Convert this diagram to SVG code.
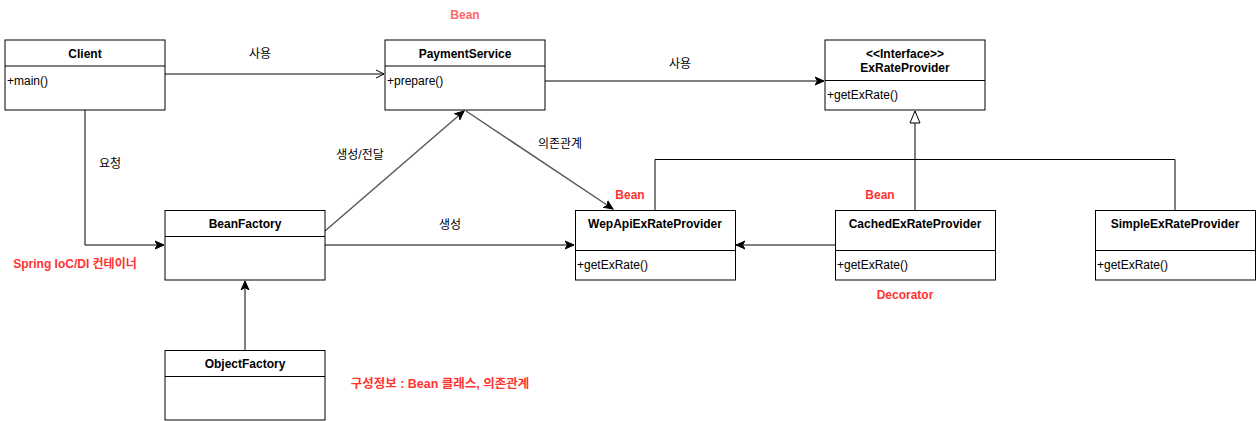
<svg xmlns="http://www.w3.org/2000/svg" width="1256" height="421" viewBox="0 0 1256 421">
<style>
.box{fill:#fff;stroke:#000;stroke-width:1}
.sep{stroke:#000;stroke-width:1}
.t{font-family:"Liberation Sans","Noto Sans CJK KR",sans-serif;font-size:12px;fill:#000}
.title{text-anchor:middle;font-weight:bold}
.m{font-size:12px}
.lbl{font-family:"Liberation Sans","Noto Sans CJK KR",sans-serif;font-size:12px;fill:#000;text-anchor:middle}
.red{font-family:"Liberation Sans","Noto Sans CJK KR",sans-serif;font-size:12px;fill:#ff3333;font-weight:bold;text-anchor:middle}
.ln{fill:none;stroke:#000;stroke-width:1}
.gl{fill:none;stroke:#595959;stroke-width:1.5}
</style>
<defs>
<marker id="open" markerWidth="10" markerHeight="10" refX="9" refY="5" orient="auto" markerUnits="userSpaceOnUse">
<path d="M1,1 L9,5 L1,9" fill="none" stroke="#000" stroke-width="1"/>
</marker>
<marker id="fill" markerWidth="10" markerHeight="10" refX="9" refY="5" orient="auto" markerUnits="userSpaceOnUse">
<path d="M0,1 L9,5 L0,9 L2.5,5 Z" fill="#000" stroke="#000" stroke-width="1"/>
</marker>
<marker id="tri" markerWidth="14" markerHeight="14" refX="13" refY="6" orient="auto" markerUnits="userSpaceOnUse">
<path d="M1,1 L13,6 L1,11 Z" fill="#fff" stroke="#000" stroke-width="1"/>
</marker>
</defs>

<g id="connectors">
<line class="gl" x1="165" y1="74" x2="384" y2="74" marker-end="url(#open)"/>
<line class="ln" x1="545" y1="81" x2="824" y2="81" marker-end="url(#fill)"/>
<polyline class="ln" points="85,110 85,245 164,245" marker-end="url(#fill)"/>
<line class="gl" x1="325" y1="231" x2="464" y2="111" marker-end="url(#fill)"/>
<line class="gl" x1="466" y1="111" x2="613" y2="209" marker-end="url(#fill)"/>
<line class="ln" x1="325" y1="245" x2="574" y2="245" marker-end="url(#fill)"/>
<line class="ln" x1="835" y1="245" x2="736" y2="245" marker-end="url(#fill)"/>
<line class="ln" x1="245" y1="350" x2="245" y2="281" marker-end="url(#fill)"/>
<line class="ln" x1="915" y1="210" x2="915" y2="111" marker-end="url(#tri)"/>
<polyline class="ln" points="655,210 655,159.5 1175,159.5 1175,210"/>
<text class="lbl" x="260" y="58">사용</text>
<text class="lbl" x="680" y="68">사용</text>
<text class="lbl" x="110" y="168">요청</text>
<text class="lbl" x="360" y="159">생성/전달</text>
<text class="lbl" x="560" y="148">의존관계</text>
<text class="lbl" x="450" y="229">생성</text>
</g>

<g id="client">
<rect class="box" x="5" y="40" width="160" height="70"/>
<line class="sep" x1="5" y1="66" x2="165" y2="66"/>
<text class="t title" x="85" y="58">Client</text>
<text class="t m" x="7" y="85">+main()</text>
</g>

<g id="paymentservice">
<rect class="box" x="385" y="40" width="160" height="70"/>
<line class="sep" x1="385" y1="66" x2="545" y2="66"/>
<text class="t title" x="465" y="58">PaymentService</text>
<text class="t m" x="387" y="85">+prepare()</text>
</g>

<g id="exrateprovider">
<rect class="box" x="825" y="40" width="160" height="70"/>
<line class="sep" x1="825" y1="80.5" x2="985" y2="80.5"/>
<text class="t title" x="905" y="58" font-weight="normal">&lt;&lt;Interface&gt;&gt;</text>
<text class="t title" x="905" y="72">ExRateProvider</text>
<text class="t m" x="827" y="99">+getExRate()</text>
</g>

<g id="beanfactory">
<rect class="box" x="165" y="210.5" width="160" height="69.5"/>
<line class="sep" x1="165" y1="236.5" x2="325" y2="236.5"/>
<text class="t title" x="245" y="228">BeanFactory</text>
</g>

<g id="objectfactory">
<rect class="box" x="165" y="350.5" width="160" height="69.5"/>
<line class="sep" x1="165" y1="376.5" x2="325" y2="376.5"/>
<text class="t title" x="245" y="368">ObjectFactory</text>
</g>

<g id="wepapi">
<rect class="box" x="575.5" y="210.5" width="160" height="69.5"/>
<line class="sep" x1="575.5" y1="250.5" x2="735.5" y2="250.5"/>
<text class="t title" x="655" y="228">WepApiExRateProvider</text>
<text class="t m" x="577" y="269">+getExRate()</text>
</g>

<g id="cached">
<rect class="box" x="835.5" y="210.5" width="160" height="69.5"/>
<line class="sep" x1="835.5" y1="250.5" x2="995.5" y2="250.5"/>
<text class="t title" x="915" y="228">CachedExRateProvider</text>
<text class="t m" x="837" y="269">+getExRate()</text>
</g>

<g id="simple">
<rect class="box" x="1095.5" y="210.5" width="160" height="69.5"/>
<line class="sep" x1="1095.5" y1="250.5" x2="1255.5" y2="250.5"/>
<text class="t title" x="1175" y="228">SimpleExRateProvider</text>
<text class="t m" x="1097" y="269">+getExRate()</text>
</g>

<g id="notes">
<text class="red" x="465" y="19" style="fill:#ff6666">Bean</text>
<text class="red" x="630" y="199">Bean</text>
<text class="red" x="880" y="199">Bean</text>
<text class="red" x="905" y="299">Decorator</text>
<text class="red" x="75" y="268">Spring IoC/DI 컨테이너</text>
<text class="red" x="440" y="388" style="font-size:12.5px">구성정보 : Bean 클래스, 의존관계</text>
</g>
</svg>
